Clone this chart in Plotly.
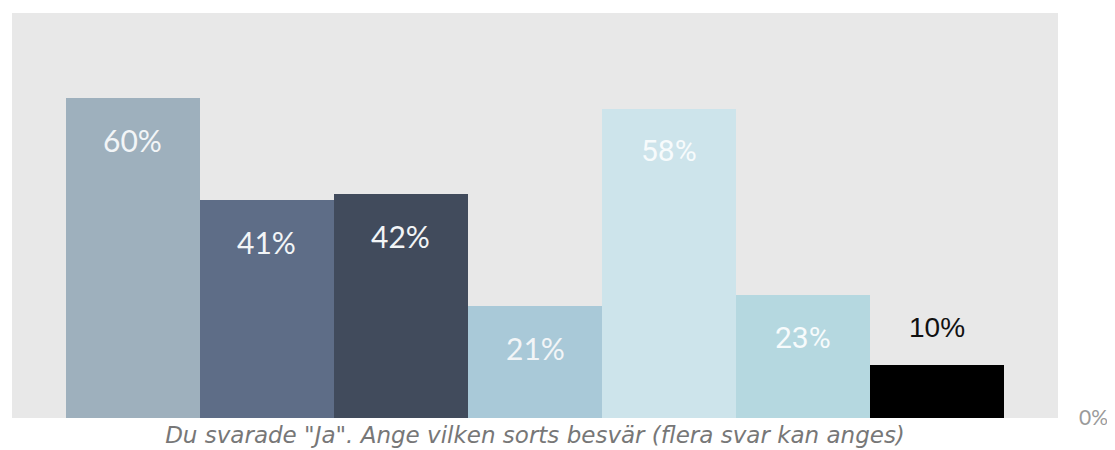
import plotly.graph_objects as go

categories = ["Kat 1", "Kat 2", "Kat 3", "Kat 4", "Kat 5", "Kat 6", "Kat 7"]
values = [60, 41, 42, 21, 58, 23, 10]
labels = ["60%", "41%", "42%", "21%", "58%", "23%", "10%"]
bar_colors = ["#9eb0bd", "#5e6d87", "#414b5c", "#a9c9d8", "#cde4eb", "#b5d8e0", "#000000"]
label_colors = ["#f2f5f7", "#f2f5f7", "#f2f5f7", "#f2f5f7", "#f7fbfc", "#f7fbfc", "#111111"]
label_fonts = ["Lato", "Lato", "Lato", "Lato", "Roboto", "Roboto", "Liberation Sans"]
label_inside = [True, True, True, True, True, True, False]
x_title = 'Du svarade "Ja". Ange vilken sorts besvär (flera svar kan anges)'

fig = go.Figure()
fig.add_trace(go.Bar(
    x=categories, y=values,
    marker=dict(color=bar_colors, line=dict(width=0)),
    hoverinfo="skip",
))

for c, v, t, col, fnt, inside in zip(categories, values, labels, label_colors, label_fonts, label_inside):
    fig.add_annotation(
        x=c, y=v, text=t, showarrow=False,
        yshift=-42 if inside else 37,
        font=dict(family=fnt, size=30 if inside else 28, color=col),
        xanchor="center", yanchor="middle",
    )

fig.update_layout(
    width=1107, height=442,
    margin=dict(l=4, r=57, t=5, b=32),
    paper_bgcolor="#ffffff",
    plot_bgcolor="#e8e8e8",
    bargap=0,
    showlegend=False,
    xaxis=dict(
        range=[-0.9, 6.9], showticklabels=False, showgrid=False, zeroline=False,
        title=dict(text=x_title, standoff=8,
                   font=dict(family="DejaVu Sans", size=23, color="#777777", style="italic")),
        automargin=False,
    ),
    yaxis=dict(
        range=[0, 76], side="right", showgrid=False, zeroline=False,
        tickvals=[0], ticktext=["0%"], ticklabelstandoff=20,
        tickfont=dict(family="Lato", size=21, color="#9a9a9a"),
        automargin=False,
    ),
)

fig.write_html("out.html")
